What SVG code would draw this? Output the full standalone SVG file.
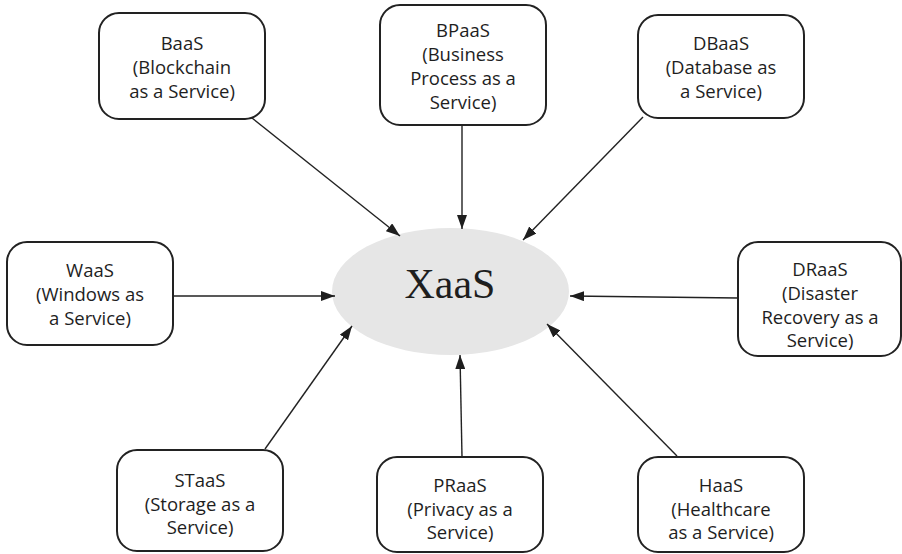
<svg xmlns="http://www.w3.org/2000/svg" width="902" height="554" viewBox="0 0 902 554">
  <style>
    .box { fill: #ffffff; stroke: #222222; stroke-width: 2; }
    .lbl { font-family: "Open Sans", "Noto Sans", "DejaVu Sans", sans-serif; font-size: 18.5px; fill: #1e1e1e; text-anchor: middle; }
    .hub { fill: #e6e6e6; }
    .hubtxt { font-family: "Liberation Serif", "Times New Roman", serif; font-size: 42px; fill: #1e1e1e; text-anchor: middle; }
    .conn line { stroke: #222222; stroke-width: 1.4; marker-end: url(#tip); }
  </style>
  <defs>
    <marker id="tip" viewBox="0 0 14 10" refX="14" refY="5" markerWidth="14" markerHeight="10" markerUnits="userSpaceOnUse" orient="auto">
      <path d="M0,0 L14,5 L0,10 Z" fill="#1e1e1e"/>
    </marker>
  </defs>
  <rect width="902" height="554" fill="#ffffff"/>

  <!-- central hub -->
  <g id="xaas">
    <ellipse class="hub" cx="450.5" cy="291.5" rx="118.5" ry="63.5"/>
    <text class="hubtxt" x="450" y="298">XaaS</text>
  </g>

  <!-- connectors: every service points at the hub -->
  <g id="connectors" class="conn">
    <line x1="252" y1="118" x2="400" y2="236"/>
    <line x1="462" y1="126" x2="462" y2="229"/>
    <line x1="643" y1="117" x2="523" y2="240"/>
    <line x1="173" y1="296" x2="335" y2="296"/>
    <line x1="738" y1="298" x2="570" y2="296"/>
    <line x1="265" y1="449" x2="352" y2="326"/>
    <line x1="462" y1="457" x2="460" y2="355"/>
    <line x1="677" y1="456" x2="547" y2="324"/>
  </g>

  <g id="baas">
    <rect class="box" x="99" y="13" width="166" height="106" rx="20"/>
    <text class="lbl" x="182" y="50">BaaS</text>
    <text class="lbl" x="182" y="74">(Blockchain</text>
    <text class="lbl" x="182" y="98">as a Service)</text>
  </g>

  <g id="bpaas">
    <rect class="box" x="380" y="5" width="166" height="120" rx="20"/>
    <text class="lbl" x="463" y="37">BPaaS</text>
    <text class="lbl" x="463" y="61">(Business</text>
    <text class="lbl" x="463" y="85">Process as a</text>
    <text class="lbl" x="463" y="109">Service)</text>
  </g>

  <g id="dbaas">
    <rect class="box" x="638" y="15" width="166" height="103" rx="20"/>
    <text class="lbl" x="721" y="50">DBaaS</text>
    <text class="lbl" x="721" y="74">(Database as</text>
    <text class="lbl" x="721" y="98">a Service)</text>
  </g>

  <g id="waas">
    <rect class="box" x="7" y="242" width="166" height="103" rx="20"/>
    <text class="lbl" x="90" y="277">WaaS</text>
    <text class="lbl" x="90" y="301">(Windows as</text>
    <text class="lbl" x="90" y="325">a Service)</text>
  </g>

  <g id="draas">
    <rect class="box" x="738" y="242" width="163" height="114" rx="20"/>
    <text class="lbl" x="820" y="276">DRaaS</text>
    <text class="lbl" x="820" y="300">(Disaster</text>
    <text class="lbl" x="820" y="324">Recovery as a</text>
    <text class="lbl" x="820" y="347">Service)</text>
  </g>

  <g id="staas">
    <rect class="box" x="117" y="450" width="166" height="101" rx="20"/>
    <text class="lbl" x="200" y="487">STaaS</text>
    <text class="lbl" x="200" y="511">(Storage as a</text>
    <text class="lbl" x="200" y="534">Service)</text>
  </g>

  <g id="praas">
    <rect class="box" x="377" y="457" width="166" height="95" rx="20"/>
    <text class="lbl" x="460" y="492">PRaaS</text>
    <text class="lbl" x="460" y="516">(Privacy as a</text>
    <text class="lbl" x="460" y="539">Service)</text>
  </g>

  <g id="haas">
    <rect class="box" x="638" y="457" width="166" height="95" rx="20"/>
    <text class="lbl" x="721" y="492">HaaS</text>
    <text class="lbl" x="721" y="516">(Healthcare</text>
    <text class="lbl" x="721" y="539">as a Service)</text>
  </g>
</svg>
